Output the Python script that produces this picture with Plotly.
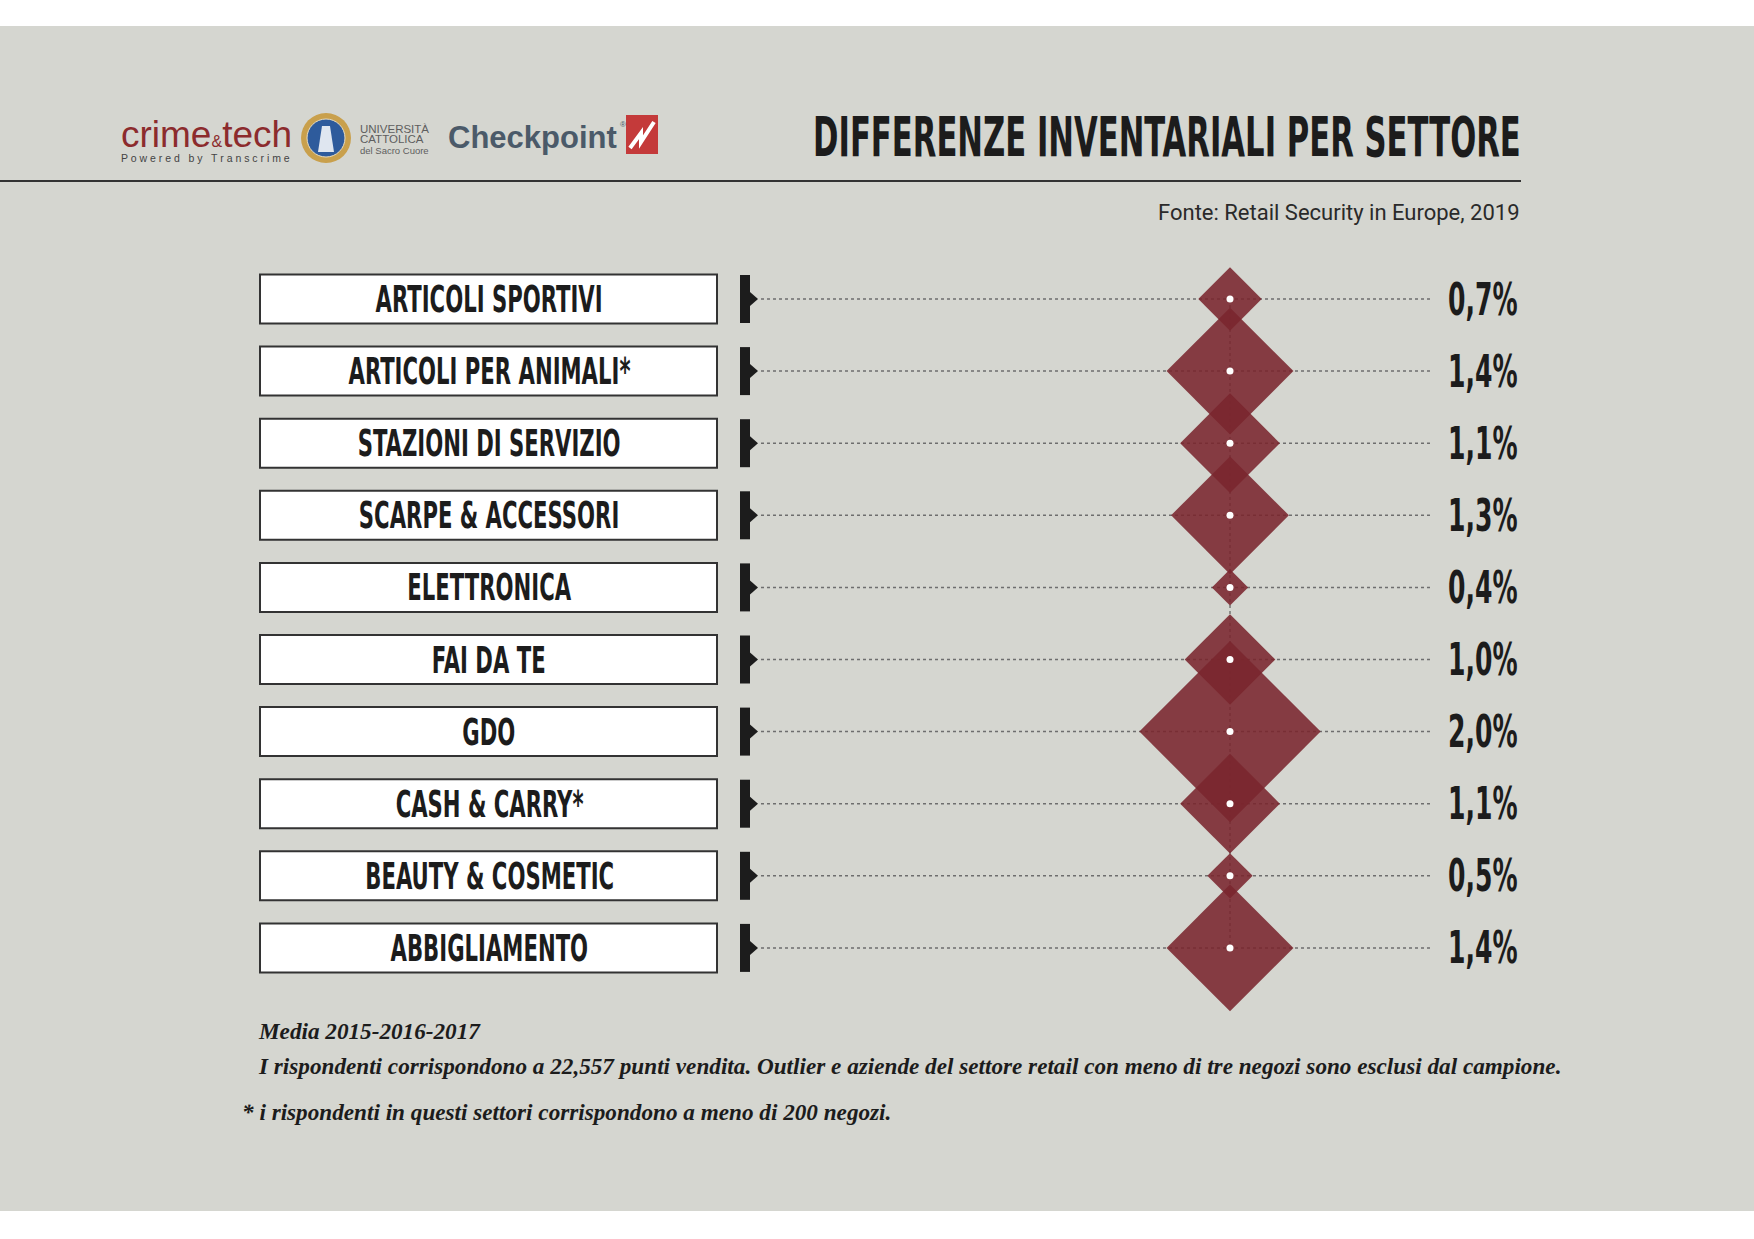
import plotly.graph_objects as go

# data
sectors = ["ARTICOLI SPORTIVI", "ARTICOLI PER ANIMALI*", "STAZIONI DI SERVIZIO",
           "SCARPE & ACCESSORI", "ELETTRONICA", "FAI DA TE", "GDO",
           "CASH & CARRY*", "BEAUTY & COSMETIC", "ABBIGLIAMENTO"]
values = [0.7, 1.4, 1.1, 1.3, 0.4, 1.0, 2.0, 1.1, 0.5, 1.4]
value_labels = [("%.1f" % v).replace(".", ",") + "%" for v in values]

title = "DIFFERENZE INVENTARIALI PER SETTORE"
source = "Fonte: Retail Security in Europe, 2019"
notes = ["Media 2015-2016-2017",
         "I rispondenti corrispondono a 22,557 punti vendita. Outlier e aziende del settore retail con meno di tre negozi sono esclusi dal campione.",
         "* i rispondenti in questi settori corrispondono a meno di 200 negozi."]

W, H = 1754, 1239
ROW0, STEP = 299, 72.1      # pixel centre of first row, row spacing
CX = 1230                   # diamond centre
DIAMOND_K = 69.7            # marker size per percentage point

BG = "#d5d6d0"
DARK = "#1c1c1c"
COND = "DejaVu Sans Condensed"   # squeezed horizontally after drawing
SANS = "Liberation Sans, Arial, sans-serif"


def px(x):
    return x / W


def py(y):
    return 1 - y / H


def rows(p):
    return p / STEP


rows_idx = list(range(len(sectors)))

fig = go.Figure()

shapes = []
# background band
shapes.append(dict(type="rect", xref="paper", yref="paper", x0=0, x1=1,
                   y0=py(1211), y1=py(26), fillcolor=BG, line_width=0, layer="below"))
# header rule
shapes.append(dict(type="line", xref="paper", yref="paper", x0=0, x1=px(1521),
                   y0=py(181), y1=py(181), line=dict(color="#333333", width=2)))
# vertical guide
shapes.append(dict(type="line", xref="x", yref="y", x0=CX, x1=CX, y0=0,
                   y1=len(sectors) - 1, layer="below",
                   line=dict(color="#444444", width=1, dash="dot")))

for i in rows_idx:
    # label box
    shapes.append(dict(type="rect", xref="x", yref="y", x0=260, x1=717,
                       y0=i - rows(24.5), y1=i + rows(24.5), fillcolor="white",
                       line=dict(color="#333333", width=2), layer="below"))
    # black marker
    shapes.append(dict(type="rect", xref="x", yref="y", x0=740, x1=750,
                       y0=i - rows(24), y1=i + rows(24), fillcolor=DARK,
                       line_width=0, layer="below"))
    shapes.append(dict(type="path", xref="x", yref="y",
                       path="M750,%f L758,%f L750,%f Z" % (i - rows(7), i, i + rows(7)),
                       fillcolor=DARK, line_width=0, layer="below"))
    # dotted leader
    shapes.append(dict(type="line", xref="x", yref="y", x0=761, x1=1432, y0=i, y1=i,
                       layer="below", line=dict(color="#6e6e6e", width=1.5, dash="dot")))

# seal logo
shapes.append(dict(type="circle", xref="paper", yref="paper", x0=px(301), x1=px(351),
                   y0=py(163), y1=py(113), fillcolor="#c9a04c", line_width=0))
shapes.append(dict(type="circle", xref="paper", yref="paper", x0=px(307), x1=px(345),
                   y0=py(157), y1=py(119), fillcolor="#2e5b9c", line=dict(color="#e8dcc0", width=1)))
shapes.append(dict(type="path", xref="paper", yref="paper",
                   path="M%f,%f L%f,%f L%f,%f L%f,%f Z" % (px(318), py(152), px(334), py(152),
                                                         px(330), py(126), px(322), py(126)),
                   fillcolor="#dfe6f0", line_width=0))
# checkpoint mark
shapes.append(dict(type="rect", xref="paper", yref="paper", x0=px(626), x1=px(658),
                   y0=py(154), y1=py(115), fillcolor="#c43a3a", line_width=0))
shapes.append(dict(type="path", xref="paper", yref="paper",
                   path="M%f,%f L%f,%f L%f,%f L%f,%f" % (px(630), py(148), px(641), py(133),
                                                       px(641), py(142), px(654), py(122)),
                   line=dict(color="white", width=4)))

# diamonds
fig.add_trace(go.Scatter(
    x=[CX] * len(values), y=rows_idx, mode="markers",
    marker=dict(symbol="diamond", size=[v * DIAMOND_K for v in values],
                color="rgba(122,38,46,0.88)", opacity=1, line_width=0),
    hoverinfo="text", text=value_labels, showlegend=False))
# centre dots
fig.add_trace(go.Scatter(
    x=[CX] * len(values), y=rows_idx, mode="markers",
    marker=dict(symbol="circle", size=7, color="white", line_width=0),
    hoverinfo="skip", showlegend=False))

annotations = []
for i, (name, lab) in enumerate(zip(sectors, value_labels)):
    annotations.append(dict(x=489, y=i, xref="x", yref="y", text=name, showarrow=False,
                            xanchor="center", yanchor="middle", align="center",
                            font=dict(family=COND, size=38, color=DARK, weight="bold")))
    annotations.append(dict(x=1446, y=i, xref="x", yref="y", text=lab, showarrow=False,
                            xanchor="left", yanchor="middle", align="left",
                            font=dict(family=COND, size=45, color=DARK, weight="bold")))

annotations.append(dict(x=px(1523), y=py(137), xref="paper", yref="paper", text=title,
                        showarrow=False, xanchor="right", yanchor="middle", align="right",
                        font=dict(family=COND, size=55, color=DARK, weight="bold")))
annotations.append(dict(x=px(1522), y=py(212), xref="paper", yref="paper", text=source,
                        showarrow=False, xanchor="right", yanchor="middle",
                        font=dict(family="Roboto, sans-serif", size=22, color="#2a2a2a")))

note_pos = [(256, 1031), (256, 1066), (240, 1112)]
for (nx, ny), t in zip(note_pos, notes):
    annotations.append(dict(x=px(nx), y=py(ny), xref="paper", yref="paper", text=t,
                            showarrow=False, xanchor="left", yanchor="middle",
                            font=dict(family="Liberation Serif, serif", size=23.2, color=DARK,
                                      style="italic", weight="bold")))

# logos as text
annotations.append(dict(x=px(119), y=py(134), xref="paper", yref="paper",
                        text="crime<span style='font-size:16px'>&amp;</span>tech",
                        showarrow=False, xanchor="left", yanchor="middle",
                        font=dict(family=SANS, size=37, color="#8c2b2d")))
annotations.append(dict(x=px(119), y=py(158), xref="paper", yref="paper",
                        text="P o w e r e d \u00a0 b y \u00a0 T r a n s c r i m e",
                        showarrow=False, xanchor="left", yanchor="middle",
                        font=dict(family=SANS, size=10.5, color="#444444")))
uni = [("UNIVERSITÀ", 129, 11.5), ("CATTOLICA", 139.5, 11.5), ("del Sacro Cuore", 150, 9.5)]
for t, yy, fs in uni:
    annotations.append(dict(x=px(358), y=py(yy), xref="paper", yref="paper", text=t,
                            showarrow=False, xanchor="left", yanchor="middle",
                            font=dict(family=SANS, size=fs, color="#5e5e5e")))
annotations.append(dict(x=px(446), y=py(137), xref="paper", yref="paper", text="Checkpoint",
                        showarrow=False, xanchor="left", yanchor="middle",
                        font=dict(family=SANS, size=31, color="#4b5a69", weight="bold")))
annotations.append(dict(x=px(618), y=py(125), xref="paper", yref="paper", text="®",
                        showarrow=False, xanchor="left", yanchor="middle",
                        font=dict(family=SANS, size=8, color="#4b5a69")))

fig.update_layout(
    width=W, height=H, margin=dict(l=0, r=0, t=0, b=0),
    paper_bgcolor="white", plot_bgcolor="rgba(0,0,0,0)",
    xaxis=dict(range=[0, W], visible=False, fixedrange=True),
    yaxis=dict(range=[rows(H - ROW0), rows(-ROW0)], visible=False, fixedrange=True),
    shapes=shapes, annotations=annotations, showlegend=False,
)

# the original uses a very narrow display face: squeeze the condensed texts
squeeze = """
document.body.style.margin = '0';
var k = 0.62;
var gd = document.getElementById('{plot_id}');
gd.querySelectorAll('text.annotation-text').forEach(function (el) {
  var ff = el.style.fontFamily || '';
  if (ff.indexOf('Condensed') < 0) return;
  var b = el.getBBox();
  var a = el.getAttribute('text-anchor');
  var x0 = a === 'start' ? b.x : (a === 'end' ? b.x + b.width : b.x + b.width / 2);
  var t0 = el.getAttribute('transform') || '';
  el.setAttribute('transform', t0 + ' translate(' + (x0 * (1 - k)) + ',0) scale(' + k + ',1)');
});
"""

fig.write_html("out.html", post_script=squeeze, config={"displayModeBar": False})
